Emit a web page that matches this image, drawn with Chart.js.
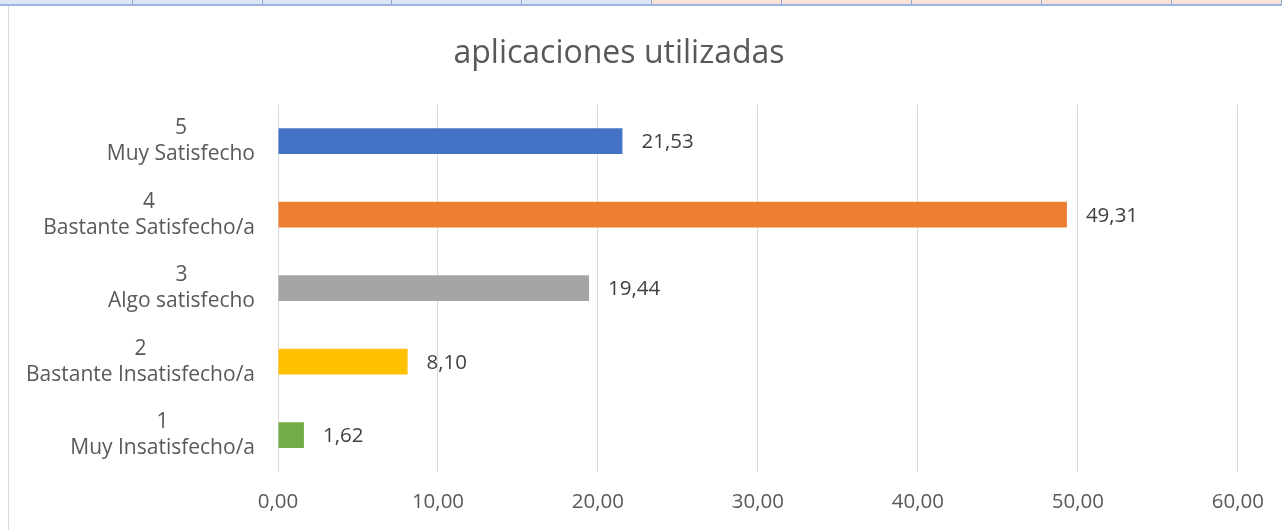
<!DOCTYPE html>
<html>
<head>
<meta charset="utf-8">
<script src="https://cdn.jsdelivr.net/npm/chart.js@4"></script>
<style>
  html, body { margin: 0; padding: 0; background: #fff; }
  #wrap { position: relative; width: 1282px; height: 530px; overflow: hidden; }
  #strip { position: absolute; left: 0; top: 0; width: 1282px; height: 4px; display: flex; border-bottom: 2px solid #9db5e2; }
  #strip div { height: 4px; border-right: 1px solid #8eaadb; box-sizing: border-box; }
  #frame { position: absolute; left: 8px; top: 6px; width: 1px; height: 524px; background: #d9d9d9; }
  canvas { position: absolute; left: 0; top: 0; }
</style>
</head>
<body>
<div id="wrap">
  <canvas id="chart" width="1282" height="530"></canvas>
  <div id="strip"></div>
  <div id="frame"></div>
</div>
<script>
// ========= Data =========
const categories = [
  ["5", "Muy Satisfecho"],
  ["4", "Bastante Satisfecho/a"],
  ["3", "Algo satisfecho"],
  ["2", "Bastante Insatisfecho/a"],
  ["1", "Muy Insatisfecho/a"]
];
const values = [21.53, 49.31, 19.44, 8.10, 1.62];
const barColors = ["#4472c4", "#ed7d31", "#a5a5a5", "#ffc000", "#70ad47"];
const xTicks = [0, 10, 20, 30, 40, 50, 60];
const chartTitle = "aplicaciones utilizadas";

const FONT = "'Open Sans', sans-serif";
const fmt = (v) => Number(v).toFixed(2).replace(".", ",");

// spreadsheet strip above the chart
const strip = document.getElementById("strip");
[133, 130, 129, 130, 130, 130, 130, 130, 130, 110].forEach((w, i) => {
  const d = document.createElement("div");
  d.style.width = w + "px";
  d.style.background = i < 5 ? "#dae5f6" : "#fbe2d5";
  strip.appendChild(d);
});

/* ========= Plugins ========= */
// y labels: two lines, each label centered on its own widest line, right edge fixed
const yLabels = {
  id: "yLabels",
  afterDraw(chart) {
    const { ctx, scales: { y } } = chart;
    const right = 255;
    ctx.save();
    ctx.font = "21px " + FONT;
    ctx.fillStyle = "#595959";
    ctx.textAlign = "center";
    ctx.textBaseline = "middle";
    categories.forEach((lines, i) => {
      const cy = y.getPixelForValue(i);
      const w = Math.max(...lines.map((l) => ctx.measureText(l).width));
      const cx = right - w / 2;
      ctx.fillText(lines[0], cx, cy - 13);
      ctx.fillText(lines[1], cx, cy + 13);
    });
    ctx.restore();
  }
};

// value labels at the end of each bar
const valueLabels = {
  id: "valueLabels",
  afterDatasetsDraw(chart) {
    const { ctx } = chart;
    const meta = chart.getDatasetMeta(0);
    ctx.save();
    ctx.font = "20.5px " + FONT;
    ctx.fillStyle = "#404040";
    ctx.textAlign = "left";
    ctx.textBaseline = "middle";
    meta.data.forEach((bar, i) => {
      ctx.fillText(fmt(values[i]), bar.x + 19, bar.y + 1);
    });
    ctx.restore();
  }
};

/* ========= Chart ========= */
new Chart(document.getElementById("chart").getContext("2d"), {
  type: "bar",
  data: {
    labels: categories,
    datasets: [{
      data: values,
      backgroundColor: barColors,
      borderWidth: 0,
      categoryPercentage: 1,
      barPercentage: 0.35
    }]
  },
  options: {
    indexAxis: "y",
    responsive: false,
    animation: false,
    layout: { padding: { left: 0, right: 44, top: 0, bottom: 0 } },
    plugins: {
      legend: { display: false },
      tooltip: { enabled: false },
      title: {
        display: true,
        text: chartTitle,
        color: "#595959",
        font: { family: FONT, size: 32, weight: "normal" },
        padding: { top: 35, bottom: 31 }
      }
    },
    scales: {
      x: {
        min: xTicks[0],
        max: xTicks[xTicks.length - 1],
        afterBuildTicks: (scale) => { scale.ticks = xTicks.map((v) => ({ value: v })); },
        afterFit: (scale) => { scale.height = 58; },
        border: { display: false },
        grid: { color: "#d9d9d9", lineWidth: 1, drawTicks: false },
        ticks: {
          color: "#595959",
          padding: 18,
          font: { family: FONT, size: 20.5 },
          callback: (v) => fmt(v)
        }
      },
      y: {
        afterFit: (scale) => { scale.width = 278; },
        border: { display: false },
        grid: { display: false },
        ticks: { display: false }
      }
    }
  },
  plugins: [yLabels, valueLabels]
});
</script>
</body>
</html>
